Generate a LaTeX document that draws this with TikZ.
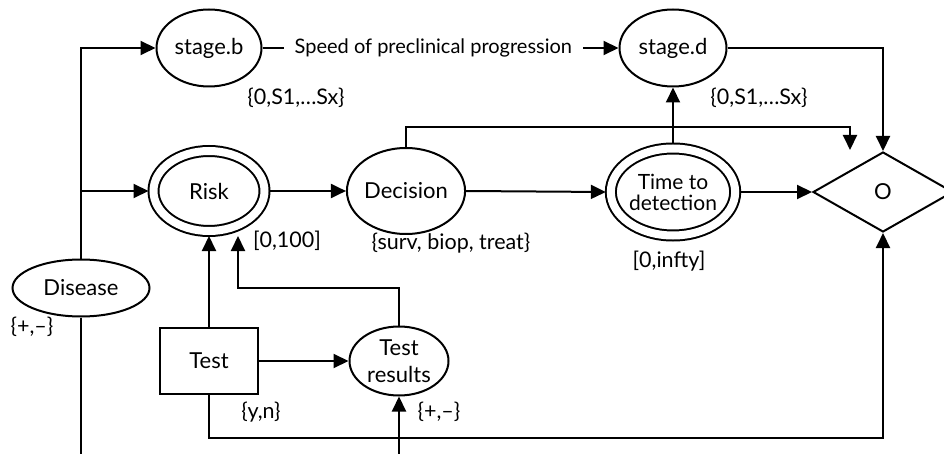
\documentclass[tikz,border=0pt]{standalone}
\usepackage{fontspec}
\setmainfont{Lato}
\usetikzlibrary{shapes.geometric,arrows.meta,calc}
\tikzset{
  arr/.style={-{Triangle[length=15pt,width=14pt]}},
  var/.style={ellipse, draw, inner sep=0pt, font=\fontsize{22}{24}\selectfont, align=center},
  dvar/.style={var, double, double distance=8pt, outer sep=5pt},
  dec/.style={rectangle, draw, inner sep=0pt, minimum width=98pt, minimum height=66pt, font=\fontsize{22}{24}\selectfont},
  util/.style={diamond, draw, aspect=1.75, inner sep=0pt, minimum width=140pt, minimum height=80pt, font=\fontsize{22}{24}\selectfont},
  lbl/.style={inner sep=0pt, font=\fontsize{21.5}{24}\selectfont},
}
\begin{document}
\begin{tikzpicture}[x=1pt,y=-1pt,line width=2pt]
  \useasboundingbox (0,0) rectangle (944,454);
  \clip (0,0) rectangle (944,454);
  % chance nodes
  \node[var, minimum width=105pt, minimum height=77pt] (stb) at (209,48) {stage.b};
  \node[var, minimum width=107pt, minimum height=77pt] (std) at (673,48) {stage.d};
  \node[var, minimum width=137pt, minimum height=57pt] (dis) at (81,288) {Disease};
  \node[var, minimum width=114pt, minimum height=86pt] (decn) at (406,191) {Decision};
  \node[var, minimum width=99pt, minimum height=69pt, font=\fontsize{22}{27}\selectfont] (res) at (399,361) {Test\\results};
  % deterministic nodes
  \node[dvar, minimum width=111pt, minimum height=80pt] (risk) at (209,191) {Risk};
  \node[dvar, minimum width=109pt, minimum height=87pt, font=\fontsize{21}{21}\selectfont] (ttd) at (673,192) {Time to\\detection};
  % decision and utility
  \node[dec] (test) at (209,361) {Test};
  \node[util] (out) at (883,192) {O};
  % value sets
  \node[lbl] (stbv) at (296,98) {\{0,S1,…Sx\}};
  \node[lbl] (stdv) at (759,98) {\{0,S1,…Sx\}};
  \node[lbl] (riskv) at (287,241) {[0,100]};
  \node[lbl] (decnv) at (451,243) {\{surv, biop, treat\}};
  \node[lbl] (ttdv) at (669,261) {[0,infty]};
  \node[lbl] (disv) at (32,327) {\{+,–\}};
  \node[lbl] (testv) at (261,412) {\{y,n\}};
  \node[lbl] (resv) at (439,412) {\{+,–\}};
  \coordinate (bot) at (0,520);
  \coordinate (tip) at (850,150);
  % arcs
  \draw[arr] (dis.north) |- (stb.west);
  \draw[arr] (dis.north |- risk) -- (risk.west);
  \draw[arr] (dis.south) -- (dis.south |- bot) -| (res.south);
  \draw[arr] (stb.east) -- node[pos=0.48, fill=white, inner xsep=11pt, font=\fontsize{20}{22}\selectfont] {Speed of preclinical progression} (std.west);
  \draw[arr] (std.east) -| (out.north);
  \draw[arr] (risk.east) -- (decn.west);
  \draw[arr] (decn.east) -- (ttd.west);
  \draw[arr] (ttd.north) -- (std.south);
  \draw[arr] (ttd.east) -- (out.west);
  \draw[arr] (decn.north) |- ++(444,-20) -- (tip);
  \draw[arr] (test.north) -- (risk.south);
  \draw[arr] (test.east) -- (res.west);
  \draw[arr] (res.north) -- ++(0,-38) -| ($(risk.south)+(29,0)$);
  \draw[arr] (test.south) -- ++(0,43) -| (out.south);
\end{tikzpicture}
\end{document}
